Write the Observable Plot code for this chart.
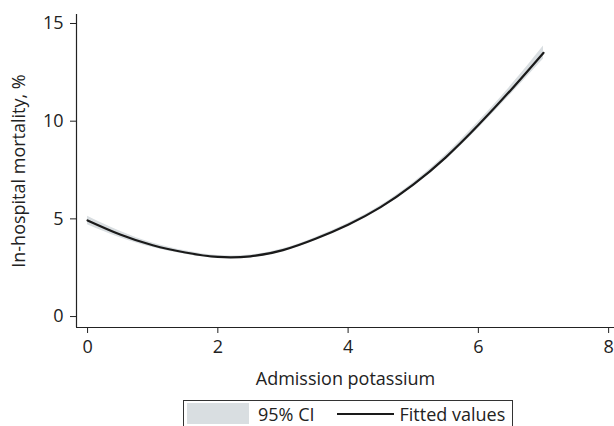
<!DOCTYPE html>
<html>
<head>
<meta charset="utf-8">
<script src="https://cdn.jsdelivr.net/npm/d3@7"></script>
<script src="https://cdn.jsdelivr.net/npm/@observablehq/plot@0.6"></script>
<style>
  body { margin: 0; background: #fff; font-family: "Open Sans", Lato, sans-serif; overflow: hidden; }
  #legend { margin-left: 183px; margin-top: 5px; width: 330px; height: 26px; border: 1px solid #333; border-bottom: none; box-sizing: border-box; display: flex; align-items: center; font-size: 18px; line-height: 22px; color: #222; white-space: nowrap; }
  .sw { width: 62px; height: 21px; background: #d9dee1; margin-left: 3px; margin-right: 9px; flex: none; }
  .ln { width: 57px; height: 0; border-top: 2px solid #1a1a1a; margin-left: 22px; margin-right: 6px; flex: none; }
</style>
</head>
<body>
<div id="chart"></div>
<div id="legend"><div class="sw"></div><span>95% CI</span><div class="ln"></div><span>Fitted values</span></div>
<script>
const potassium = [0, 0.5, 1, 1.5, 2, 2.5, 3, 3.5, 4, 4.5, 5, 5.5, 6, 6.5, 7];
const fitted    = [4.92, 4.2, 3.65, 3.28, 3.05, 3.08, 3.4, 3.98, 4.7, 5.6, 6.75, 8.15, 9.8, 11.6, 13.5];
const ciLow     = [4.7, 4.03, 3.53, 3.19, 2.98, 3.01, 3.33, 3.91, 4.63, 5.52, 6.65, 8.02, 9.63, 11.38, 13.18];
const ciHigh    = [5.14, 4.37, 3.77, 3.37, 3.12, 3.15, 3.47, 4.05, 4.77, 5.68, 6.85, 8.28, 9.97, 11.82, 13.85];
const xTicks = [0, 2, 4, 6, 8];
const yTicks = [0, 5, 10, 15];

const rows = potassium.map((k, i) => ({k, fit: fitted[i], lo: ciLow[i], hi: ciHigh[i]}));
const xDom = [-0.17, 8.09], yDom = [-0.56, 15.46];

const chart = Plot.plot({
  width: 614, height: 395,
  marginLeft: 76, marginRight: 0, marginTop: 14, marginBottom: 68,
  style: {fontFamily: "'Open Sans', Lato, sans-serif", fontSize: "18px", color: "#222", background: "#fff"},
  x: {domain: xDom},
  y: {domain: yDom},
  marks: [
    Plot.areaY(rows, {x: "k", y1: "lo", y2: "hi", fill: "#d9dee1", curve: "natural"}),
    Plot.lineY(rows, {x: "k", y: "fit", stroke: "#1a1a1a", strokeWidth: 2.2, curve: "natural"}),
    Plot.ruleX([xDom[0]], {stroke: "#222", strokeWidth: 1.2}),
    Plot.ruleY([yDom[0]], {stroke: "#222", strokeWidth: 1.2}),
    Plot.axisX({ticks: xTicks, tickSize: 6, tickPadding: 7, fontSize: 18, stroke: "#222",
      label: "Admission potassium", labelAnchor: "center", labelArrow: "none", labelOffset: 57}),
    Plot.axisY({ticks: yTicks, tickSize: 6, tickPadding: 7, fontSize: 18, stroke: "#222",
      label: "In-hospital mortality, %", labelAnchor: "center", labelArrow: "none", labelOffset: 64})
  ]
});
document.getElementById("chart").appendChild(chart);
</script>
</body>
</html>
